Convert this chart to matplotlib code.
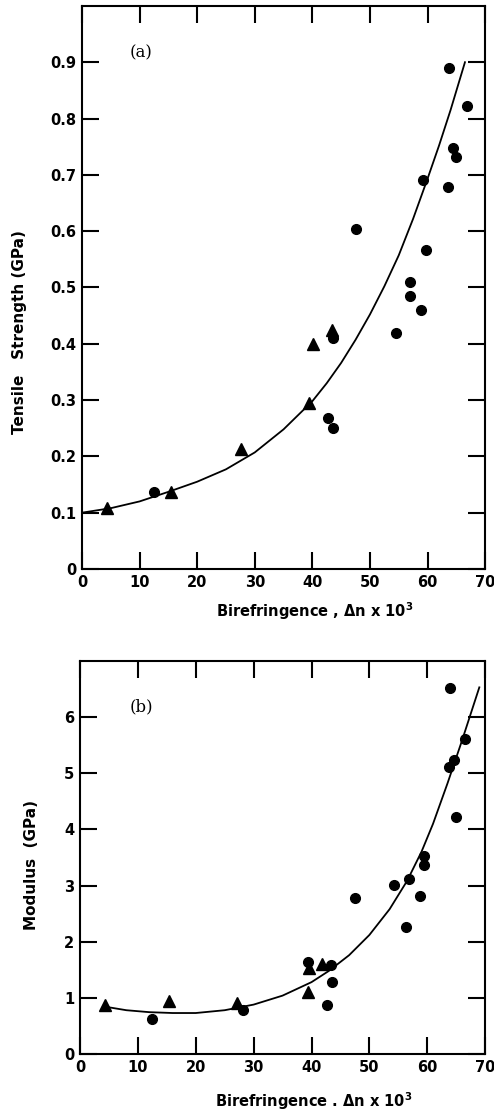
import matplotlib.pyplot as plt

plt.rcParams['font.family'] = 'DejaVu Sans'
plt.rcParams['font.weight'] = 'bold'
plt.rcParams['mathtext.default'] = 'bf'

# (a) tensile strength vs birefringence
ts_circ_x = [12.5, 42.8, 43.6, 43.6, 54.5, 57.0, 57.0, 58.9, 47.6, 59.3, 59.7, 63.6, 63.7, 64.4, 65.0, 66.8]
ts_circ_y = [0.137, 0.268, 0.250, 0.410, 0.419, 0.485, 0.509, 0.460, 0.604, 0.690, 0.567, 0.679, 0.890, 0.748, 0.732, 0.822]
ts_tri_x = [4.3, 15.4, 27.6, 39.5, 40.1, 43.4]
ts_tri_y = [0.108, 0.137, 0.213, 0.295, 0.400, 0.424]
ts_fit_x = [0, 5, 10, 15, 20, 25, 30, 35, 40, 42.5, 45, 47.5, 50, 52.5, 55, 57.5, 60, 62, 64, 66.5]
ts_fit_y = [0.100, 0.108, 0.120, 0.137, 0.155, 0.177, 0.207, 0.248, 0.298, 0.330, 0.366, 0.407, 0.452, 0.502, 0.557, 0.622, 0.693, 0.752, 0.815, 0.900]

# (b) modulus vs birefringence
mod_circ_x = [12.5, 28.1, 39.4, 42.7, 43.6, 43.3, 47.6, 54.3, 56.4, 56.8, 58.7, 59.5, 59.5, 63.9, 63.8, 64.6, 65.0, 66.5]
mod_circ_y = [0.63, 0.79, 1.64, 0.87, 1.29, 1.58, 2.77, 3.01, 2.27, 3.12, 2.81, 3.37, 3.53, 6.51, 5.12, 5.24, 4.23, 5.61]
mod_tri_x = [4.3, 15.4, 27.2, 39.4, 39.6, 41.8]
mod_tri_y = [0.87, 0.94, 0.91, 1.10, 1.53, 1.60]
mod_fit_x = [4.5, 8, 12, 16, 20, 25, 30, 35, 40, 43, 46.5, 50, 53.5, 56.5, 59, 61, 63.5, 66, 69]
mod_fit_y = [0.84, 0.78, 0.745, 0.73, 0.73, 0.78, 0.88, 1.04, 1.28, 1.48, 1.76, 2.12, 2.58, 3.08, 3.60, 4.10, 4.82, 5.58, 6.53]

xticks = [0, 10, 20, 30, 40, 50, 60, 70]
ts_ticks = [0, 0.1, 0.2, 0.3, 0.4, 0.5, 0.6, 0.7, 0.8, 0.9]
ts_labels = ['0', '0.1', '0.2', '0.3', '0.4', '0.5', '0.6', '0.7', '0.8', '0.9']
mod_ticks = [0, 1, 2, 3, 4, 5, 6]

fig = plt.figure(figsize=(4.94, 11.15), dpi=100)
ax1 = fig.add_axes([0.166, 0.4897, 0.816, 0.505])
ax2 = fig.add_axes([0.162, 0.0547, 0.820, 0.3525])


def style(ax):
    for s in ax.spines.values():
        s.set_linewidth(1.5)
    ax.tick_params(direction='in', length=12, width=1.5, top=True, right=True,
                   labelsize=10.5, pad=4)
    for lab in ax.get_xticklabels() + ax.get_yticklabels():
        lab.set_fontweight('bold')


ax1.plot(ts_fit_x, ts_fit_y, color='black', lw=1.3)
ax1.plot(ts_circ_x, ts_circ_y, 'o', color='black', ms=7)
ax1.plot(ts_tri_x, ts_tri_y, '^', color='black', ms=8)
ax1.set_xlim(0, 70)
ax1.set_ylim(0, 1.0)
ax1.set_xticks(xticks)
ax1.set_yticks(ts_ticks, ts_labels)
style(ax1)
ax1.set_xlabel('Birefringence , Δn x 10$^3$', fontsize=10.5, fontweight='bold')
ax1.xaxis.set_label_coords(0.578, -0.055)
ax1.set_ylabel('Tensile   Strength (GPa)', fontsize=11, fontweight='bold')
ax1.yaxis.set_label_coords(-0.136, 0.42)
ax1.text(0.146, 0.917, '(a)', transform=ax1.transAxes, fontsize=12,
         family='DejaVu Serif', fontweight='normal', ha='center', va='center')

ax2.plot(mod_fit_x, mod_fit_y, color='black', lw=1.3)
ax2.plot(mod_circ_x, mod_circ_y, 'o', color='black', ms=7)
ax2.plot(mod_tri_x, mod_tri_y, '^', color='black', ms=8)
ax2.set_xlim(0, 70)
ax2.set_ylim(0, 7)
ax2.set_xticks(xticks)
ax2.set_yticks(mod_ticks)
style(ax2)
ax2.set_xlabel('Birefringence . Δn x 10$^3$', fontsize=10.5, fontweight='bold')
ax2.xaxis.set_label_coords(0.578, -0.092)
ax2.set_ylabel('Modulus  (GPa)', fontsize=11, fontweight='bold')
ax2.yaxis.set_label_coords(-0.101, 0.48)
ax2.text(0.151, 0.883, '(b)', transform=ax2.transAxes, fontsize=12,
         family='DejaVu Serif', fontweight='normal', ha='center', va='center')

fig.savefig('out.png', dpi=100)
